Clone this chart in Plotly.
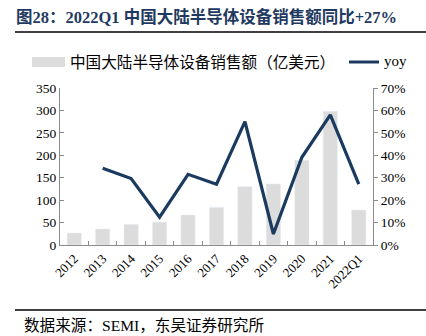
import plotly.graph_objects as go

categories = ["2012", "2013", "2014", "2015", "2016", "2017", "2018", "2019", "2020", "2021", "2022Q1"]
sales = [26.7, 35.6, 46, 51, 67, 84, 130, 136, 189, 298, 78]
yoy_cats = categories[1:]
yoy = [0.342, 0.296, 0.124, 0.315, 0.271, 0.55, 0.049, 0.391, 0.58, 0.271]

title_text = "图28：2022Q1 中国大陆半导体设备销售额同比+27%"
bar_name = "中国大陆半导体设备销售额（亿美元）"
line_name = "yoy"
source_text = "数据来源：SEMI，东吴证券研究所"

FONT = "Liberation Serif, Noto Sans CJK SC"
BAR_C = "#dcdcdc"
LINE_C = "#1b3a5f"
AX_C = "#8c8c8c"

W, H = 426, 336
L, R, T, B = 60, 53, 88, 91
PW, PH = W - L - R, H - T - B

def px(x):
    return (x - L) / PW

def py(y):
    return (H - B - y) / PH

fig = go.Figure()
fig.add_trace(go.Bar(x=categories, y=sales, marker_color=BAR_C, width=0.5,
                     name=bar_name, showlegend=False))
fig.add_trace(go.Scatter(x=yoy_cats, y=yoy, yaxis="y2", mode="lines",
                         line=dict(color=LINE_C, width=3.2), name=line_name,
                         showlegend=False))

shapes = [
    dict(type="line", xref="paper", yref="paper", x0=px(15), x1=px(426), y0=py(32), y1=py(32),
         line=dict(color="#000000", width=1.5)),
    dict(type="line", xref="paper", yref="paper", x0=px(15), x1=px(426), y0=py(310), y1=py(310),
         line=dict(color="#000000", width=1.5)),
    dict(type="rect", xref="paper", yref="paper", x0=px(32), x1=px(65), y0=py(67), y1=py(57),
         fillcolor=BAR_C, line=dict(width=0)),
    dict(type="line", xref="paper", yref="paper", x0=px(349), x1=px(379), y0=py(62), y1=py(62),
         line=dict(color=LINE_C, width=3)),
]

annotations = [
    dict(text="<b>" + title_text + "</b>", xref="paper", yref="paper", x=px(14), y=py(17),
         xanchor="left", yanchor="middle", showarrow=False,
         font=dict(family=FONT, size=16.5, color="#1f3a60")),
    dict(text=bar_name, xref="paper", yref="paper", x=px(68), y=py(62),
         xanchor="left", yanchor="middle", showarrow=False,
         font=dict(family=FONT, size=15.6, color="#000000")),
    dict(text=line_name, xref="paper", yref="paper", x=px(382), y=py(61),
         xanchor="left", yanchor="middle", showarrow=False,
         font=dict(family=FONT, size=15, color="#000000")),
    dict(text=source_text, xref="paper", yref="paper", x=px(22), y=py(325),
         xanchor="left", yanchor="middle", showarrow=False,
         font=dict(family=FONT, size=15.6, color="#000000")),
]

fig.update_layout(
    width=W, height=H,
    margin=dict(l=L, r=R, t=T, b=B),
    paper_bgcolor="white", plot_bgcolor="white",
    font=dict(family=FONT, size=13, color="#000000"),
    bargap=0.5,
    showlegend=False,
    shapes=shapes,
    annotations=annotations,
    xaxis=dict(type="category", showline=True, linecolor=AX_C, linewidth=1,
               ticks="inside", tickson="boundaries", ticklen=4, tickcolor=AX_C,
               tickangle=-45, tickfont=dict(family=FONT, size=13), showgrid=False),
    yaxis=dict(range=[0, 350], dtick=50, showline=True, linecolor=AX_C, linewidth=1,
               ticks="inside", ticklen=4, tickcolor=AX_C, showgrid=False, zeroline=False,
               tickfont=dict(family=FONT, size=13.5)),
    yaxis2=dict(range=[0, 0.7], dtick=0.1, tickformat=".0%", overlaying="y", side="right",
                showline=True, linecolor=AX_C, linewidth=1, ticks="outside", ticklen=4,
                tickcolor=AX_C, showgrid=False, zeroline=False,
                tickfont=dict(family=FONT, size=13.5)),
)

fig.write_html("out.html")
